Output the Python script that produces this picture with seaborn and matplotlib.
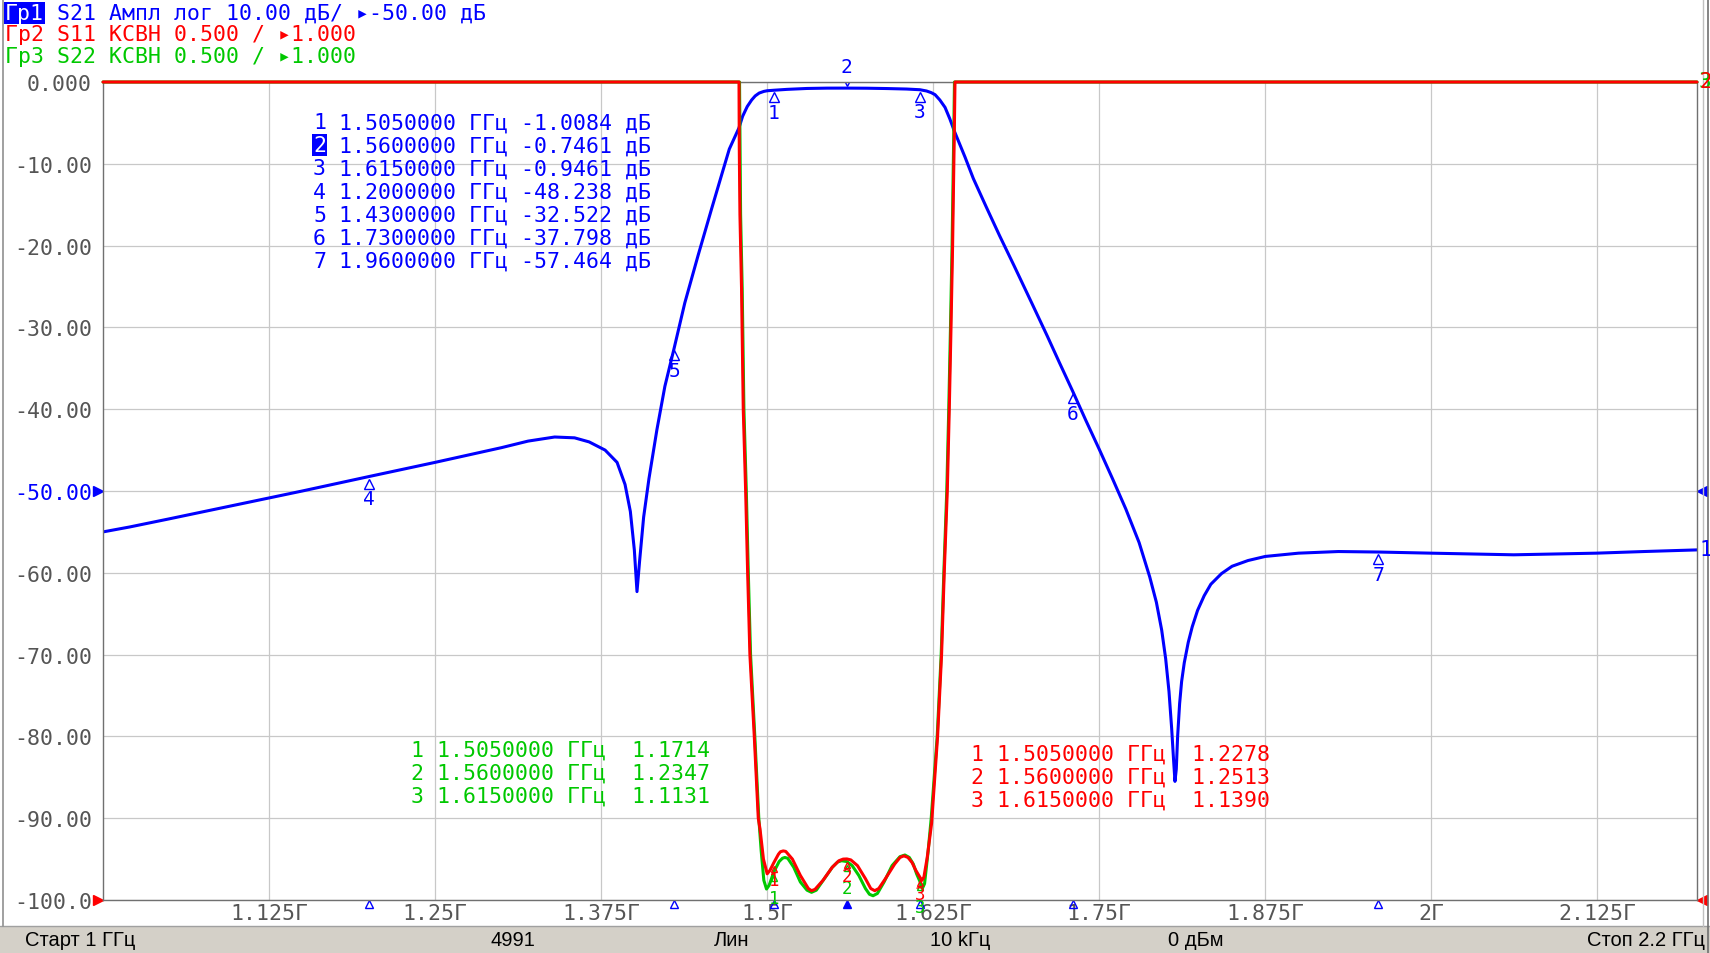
import matplotlib
matplotlib.use("Agg")
import matplotlib.pyplot as plt
import matplotlib.transforms as mtransforms
from matplotlib.patches import Rectangle
from matplotlib.lines import Line2D
import seaborn as sns

# ---- data ----
# S21, dB
s21_freq = [1.000, 1.020, 1.050, 1.100, 1.150, 1.200, 1.250, 1.300, 1.320, 1.340,
            1.355, 1.366, 1.378, 1.387, 1.393, 1.397, 1.400, 1.402, 1.404, 1.407,
            1.411, 1.417, 1.423, 1.430, 1.438, 1.448, 1.458, 1.466, 1.4715, 1.4788,
            1.4815, 1.485, 1.4883, 1.491, 1.494, 1.4975, 1.500, 1.505, 1.515, 1.530,
            1.545, 1.560, 1.575, 1.590, 1.605, 1.615, 1.620, 1.6235, 1.6264, 1.630,
            1.6339, 1.6375, 1.6409, 1.649, 1.6552, 1.665, 1.675, 1.686, 1.700, 1.711,
            1.720, 1.730, 1.740, 1.750, 1.760, 1.770, 1.780, 1.788, 1.793, 1.797,
            1.800, 1.8025, 1.8045, 1.806, 1.807, 1.808, 1.809, 1.8105, 1.812, 1.814,
            1.817, 1.820, 1.824, 1.829, 1.834, 1.842, 1.850, 1.862, 1.875, 1.900,
            1.930, 1.960, 2.000, 2.062, 2.124, 2.160, 2.200]
s21_db = [-55.0, -54.4, -53.4, -51.7, -50.0, -48.24, -46.5, -44.7, -43.9, -43.4,
          -43.5, -44.0, -45.0, -46.5, -49.2, -52.5, -57.2, -62.3, -58.5, -53.2,
          -48.5, -42.5, -37.2, -32.52, -27.0, -21.2, -15.6, -11.2, -8.2, -5.6,
          -4.2, -3.0, -2.2, -1.7, -1.35, -1.15, -1.07, -1.008, -0.90, -0.79,
          -0.75, -0.746, -0.76, -0.80, -0.86, -0.946, -1.1, -1.3, -1.55, -2.2,
          -3.1, -4.5, -6.0, -9.2, -11.8, -15.3, -18.8, -22.5, -27.3, -31.1,
          -34.3, -37.8, -41.4, -44.9, -48.5, -52.2, -56.3, -60.5, -63.6, -67.0,
          -70.5, -74.5, -79.0, -83.0, -85.5, -84.0, -80.0, -76.0, -73.3, -71.0,
          -68.5, -66.6, -64.6, -62.8, -61.4, -60.1, -59.2, -58.5, -58.0, -57.6,
          -57.4, -57.46, -57.6, -57.8, -57.6, -57.4, -57.2]

# S11, VSWR (screen top = 6.0)
s11_freq = [1.000, 1.4788, 1.4790, 1.4795, 1.4807, 1.4820, 1.4838, 1.4853, 1.4870, 1.4903,
            1.4933, 1.4946, 1.4972, 1.5000, 1.5020, 1.505, 1.5085, 1.5100, 1.5121, 1.5140,
            1.519, 1.525, 1.531, 1.5334, 1.536, 1.542, 1.549, 1.554, 1.5572, 1.560,
            1.563, 1.568, 1.574, 1.578, 1.581, 1.584, 1.589, 1.596, 1.600, 1.6029,
            1.606, 1.609, 1.612, 1.615, 1.6165, 1.618, 1.6205, 1.6238, 1.6283, 1.6313,
            1.6333, 1.6356, 1.6371, 1.6384, 1.6396, 1.6409, 1.6414, 2.200]
s11_vswr = [6.0, 6.0, 5.6, 5.19, 4.74, 4.0, 3.5, 3.0, 2.5, 2.0,
            1.5, 1.435, 1.25, 1.16, 1.18, 1.228, 1.28, 1.295, 1.30, 1.297,
            1.25, 1.15, 1.07, 1.057, 1.065, 1.12, 1.20, 1.24, 1.25, 1.251,
            1.245, 1.21, 1.13, 1.07, 1.057, 1.07, 1.13, 1.22, 1.26, 1.27,
            1.26, 1.23, 1.18, 1.139, 1.12, 1.14, 1.26, 1.47, 2.0, 2.5,
            3.0, 3.5, 4.0, 4.5, 5.0, 5.7, 6.0, 6.0]

# S22, VSWR
s22_freq = [1.000, 1.4792, 1.4800, 1.4812, 1.4825, 1.4843, 1.4858, 1.4875, 1.4907, 1.4937,
            1.4955, 1.4975, 1.4995, 1.5015, 1.505, 1.509, 1.5115, 1.5133, 1.5155, 1.520,
            1.525, 1.530, 1.5334, 1.537, 1.543, 1.549, 1.553, 1.556, 1.560, 1.564,
            1.569, 1.574, 1.577, 1.5797, 1.583, 1.588, 1.594, 1.600, 1.6037, 1.607,
            1.610, 1.6125, 1.615, 1.6168, 1.6185, 1.6212, 1.6235, 1.628, 1.631, 1.633,
            1.6352, 1.6367, 1.638, 1.6392, 1.6405, 1.641, 2.200]
s22_vswr = [6.0, 6.0, 5.19, 4.74, 4.0, 3.5, 3.0, 2.5, 2.0, 1.5,
            1.3, 1.12, 1.067, 1.09, 1.171, 1.235, 1.255, 1.26, 1.255, 1.20,
            1.11, 1.06, 1.047, 1.06, 1.13, 1.20, 1.232, 1.24, 1.235, 1.21,
            1.15, 1.07, 1.035, 1.026, 1.04, 1.11, 1.21, 1.265, 1.275, 1.26,
            1.22, 1.16, 1.113, 1.07, 1.10, 1.3, 1.5, 2.0, 2.5, 3.0,
            3.5, 4.0, 4.5, 5.0, 5.7, 6.0, 6.0]

# markers
mk_freq = [1.505, 1.56, 1.615, 1.2, 1.43, 1.73, 1.96]
mk_s21 = [-1.0084, -0.7461, -0.9461, -48.238, -32.522, -37.798, -57.464]
mk_vswr_freq = [1.505, 1.56, 1.615]
mk_s11 = [1.2278, 1.2513, 1.1390]
mk_s22 = [1.1714, 1.2347, 1.1131]

y_ticks = [0, -10, -20, -30, -40, -50, -60, -70, -80, -90, -100]
y_labels = ["0.000", "-10.00", "-20.00", "-30.00", "-40.00", "-50.00",
            "-60.00", "-70.00", "-80.00", "-90.00", "-100.0"]
x_ticks = [1.125, 1.25, 1.375, 1.5, 1.625, 1.75, 1.875, 2.0, 2.125]
x_labels = ["1.125Г", "1.25Г", "1.375Г", "1.5Г", "1.625Г", "1.75Г", "1.875Г", "2Г", "2.125Г"]

status = [("Старт 1 ГГц", 25, "left"), ("4991", 513, "center"), ("Лин", 732, "center"),
          ("10 kГц", 960, "center"), ("0 дБм", 1196, "center"), ("Стоп 2.2 ГГц", 1705, "right")]

BLUE = "#0000ff"
RED = "#ff0000"
GREEN = "#00c800"
GREY = "#555555"

sns.set_style("white")
MONO = ["DejaVu Sans Mono", "DejaVu Sans"]
plt.rcParams["font.family"] = MONO

W, H = 1710, 954
fig = plt.figure(figsize=(W / 100, H / 100), dpi=100)
ax = fig.add_axes([103 / W, 53 / H, 1594 / W, 818 / H])


def ftext(px, py, s, **kw):
    return fig.text(px / W, 1 - py / H, s, **kw)


def off(trans, dy):
    return mtransforms.offset_copy(trans, fig=fig, x=0, y=dy, units="dots")


# S21 trace
sns.lineplot(x=s21_freq, y=s21_db, ax=ax, color=BLUE, linewidth=2.2,
             estimator=None, sort=False)
ax.set_xlim(1.0, 2.2)
ax.set_ylim(-100, 0)
ax.set_xticks(x_ticks, labels=x_labels)
ax.set_yticks(y_ticks, labels=y_labels)
ax.grid(True, color="#c8c8c8", linewidth=0.9)
ax.tick_params(length=0, labelsize=15.5, labelcolor=GREY)
ax.tick_params(axis="y", pad=8)
ax.tick_params(axis="x", pad=2)
for lab in ax.get_yticklabels():
    if lab.get_text() == "-50.00":
        lab.set_color(BLUE)
for sp in ax.spines.values():
    sp.set_color("#707070")
    sp.set_linewidth(1.0)
ax.set_xlabel("")
ax.set_ylabel("")

# VSWR traces on a hidden twin scale: 1.000 at bottom, 0.5 / div
ax2 = ax.twinx()
sns.lineplot(x=s22_freq, y=s22_vswr, ax=ax2, color=GREEN, linewidth=2.2,
             estimator=None, sort=False)
sns.lineplot(x=s11_freq, y=s11_vswr, ax=ax2, color=RED, linewidth=2.2,
             estimator=None, sort=False)
ax2.set_ylim(1.0, 6.0)
ax2.set_yticks([])
ax2.set_ylabel("")
for sp in ax2.spines.values():
    sp.set_visible(False)
for ln in ax2.lines:
    ln.set_clip_on(False)

# S21 markers on trace
for i, (f, v) in enumerate(zip(mk_freq, mk_s21)):
    n = str(i + 1)
    if n == "2":
        ax.plot([f], [v], marker="v", ms=7, mfc="none", mec=BLUE, mew=1,
                transform=off(ax.transData, 7))
        ax.text(f, v, n, color=BLUE, fontsize=14, ha="center", va="center",
                transform=off(ax.transData, 22))
    else:
        ax.plot([f], [v], marker="^", ms=7, mfc="none", mec=BLUE, mew=1,
                transform=off(ax.transData, -7))
        ax.text(f, v, n, color=BLUE, fontsize=14, ha="center", va="center",
                transform=off(ax.transData, -22))

# VSWR markers
for vals, col, dy in [(mk_s22, GREEN, -26), (mk_s11, RED, -17)]:
    for i, (f, v) in enumerate(zip(mk_vswr_freq, vals)):
        ax2.plot([f], [v], marker="^", ms=5, mfc="none", mec=col, mew=1,
                 transform=off(ax2.transData, -6), clip_on=False)
        ax2.text(f, v, str(i + 1), color=col, fontsize=12.5, ha="center", va="center",
                 transform=off(ax2.transData, dy), clip_on=False)

# marker ticks below the frequency axis
for i, f in enumerate(mk_freq):
    ax.plot([f], [-100], marker="^", ms=6, mfc=BLUE if i == 1 else "none", mec=BLUE,
            mew=1, clip_on=False, transform=off(ax.transData, -4))

# reference level arrows
yref = mtransforms.blended_transform_factory(ax.transAxes, ax.transData)
for yv, col in [(-50, BLUE), (-100, RED)]:
    ax.plot([0], [yv], marker=">", ms=7, color=col, clip_on=False,
            transform=mtransforms.offset_copy(yref, fig=fig, x=-5, y=0, units="dots"))
    ax.plot([1], [yv], marker="<", ms=7, color=col, clip_on=False,
            transform=mtransforms.offset_copy(yref, fig=fig, x=5, y=0, units="dots"))

# trace end labels
ftext(1699, 550, "1", color=BLUE, fontsize=15, va="center")
ftext(1699, 82, "3", color=GREEN, fontsize=15, va="center")
ftext(1699, 82, "2", color=RED, fontsize=15, va="center")

# header
FS = 15.5
CW = 0.602 * FS * 100 / 72
ftext(5, 14, "Гр1", color="white", fontsize=FS, va="center",
      bbox=dict(boxstyle="square,pad=0.05", fc=BLUE, ec="none"))
ftext(5 + 4 * CW, 14, "S21 Ампл лог 10.00 дБ/ ▸-50.00 дБ", color=BLUE, fontsize=FS, va="center")
ftext(5, 35, "Гр2 S11 КСВН 0.500 / ▸1.000", color=RED, fontsize=FS, va="center")
ftext(5, 57, "Гр3 S22 КСВН 0.500 / ▸1.000", color=GREEN, fontsize=FS, va="center")


def db_str(v):
    return f"{v:.4f}" if abs(v) < 10 else f"{v:.3f}"


# marker tables
for i, (f, v) in enumerate(zip(mk_freq, mk_s21)):
    y = 123.3 + i * 23.07
    kw = dict(color=BLUE, fontsize=FS, va="center")
    if i == 1:
        ftext(313, y, "2", color="white", fontsize=FS, va="center",
              bbox=dict(boxstyle="square,pad=0.05", fc=BLUE, ec="none"))
    else:
        ftext(313, y, str(i + 1), **kw)
    ftext(313 + 2 * CW, y, f"{f:.7f} ГГц {db_str(v)} дБ", **kw)

for vals, col, x0, y0 in [(mk_s22, GREEN, 411, 751), (mk_s11, RED, 971, 755)]:
    for i, (f, v) in enumerate(zip(mk_vswr_freq, vals)):
        ftext(x0, y0 + i * 23.0, f"{i + 1} {f:.7f} ГГц  {v:.4f}", color=col,
              fontsize=FS, va="center")

# status bar and window frame
fig.patches.append(Rectangle((0, 0), 1, 27 / H, transform=fig.transFigure,
                             facecolor="#d4d0c8", edgecolor="none"))
fig.add_artist(Line2D([0, 1], [27 / H, 27 / H], transform=fig.transFigure,
                      color="#a0a0a0", linewidth=1))
fig.add_artist(Line2D([3 / W, 3 / W], [27 / H, 1], transform=fig.transFigure,
                      color="#909090", linewidth=1.2))
fig.add_artist(Line2D([1703 / W, 1703 / W], [27 / H, 1], transform=fig.transFigure,
                      color="#c0c0c0", linewidth=1))
fig.add_artist(Line2D([1708 / W, 1708 / W], [0, 1], transform=fig.transFigure,
                      color="#707070", linewidth=1.2))
for s, x, ha in status:
    ftext(x, 941, s, color="black", fontsize=14.5, ha=ha, va="center",
          family=["Liberation Sans", "DejaVu Sans"])

fig.savefig("out.png", dpi=100)
